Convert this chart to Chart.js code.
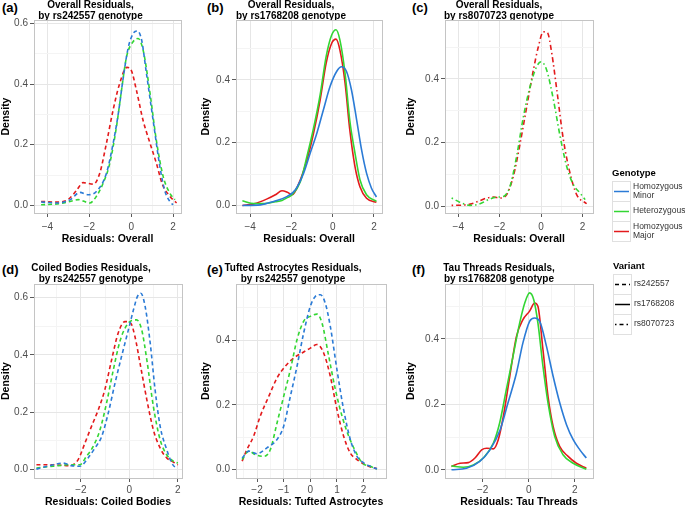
<!DOCTYPE html>
<html>
<head>
<meta charset="utf-8">
<script src="https://cdn.jsdelivr.net/npm/chart.js@4.4.1/dist/chart.umd.min.js"></script>
<style>
	body { margin: 0; background: #fff; font-family: "Liberation Sans", Arial, sans-serif; }
	#wrap { position: relative; width: 685px; height: 507px; overflow: hidden; }
	canvas { position: absolute; }
	.tag { position: absolute; font-weight: bold; font-size: 13px; color: #000; }
	.leg { position: absolute; font-size: 8.5px; color: #333; z-index: 2; }
	.leg b { display: block; font-size: 9.5px; color: #000; margin-bottom: 3px; }
	.row { display: flex; align-items: center; }
	.key { width: 17px; border: 1px solid #e0e0e0; display: flex; align-items: center; justify-content: center; margin-bottom: -1px; flex: none; }
	.row span { margin-left: 2px; line-height: 9.5px; white-space: nowrap; }
</style>
</head>
<body>
<div id="wrap">
	<div class="tag" style="left:2px;top:0px">(a)</div>
	<div class="tag" style="left:207px;top:0px">(b)</div>
	<div class="tag" style="left:412px;top:0px">(c)</div>
	<div class="tag" style="left:2px;top:262px">(d)</div>
	<div class="tag" style="left:207px;top:262px">(e)</div>
	<div class="tag" style="left:412px;top:262px">(f)</div>

	<div class="leg" style="left:612px;top:167px">
		<b>Genotype</b>
		<div class="row"><div class="key" style="height:19px"><svg width="15" height="3"><line x1="0" y1="1.5" x2="15" y2="1.5" stroke="#2b7bd6" stroke-width="1.5"/></svg></div><span>Homozygous<br>Minor</span></div>
		<div class="row"><div class="key" style="height:19px"><svg width="15" height="3"><line x1="0" y1="1.5" x2="15" y2="1.5" stroke="#33d633" stroke-width="1.5"/></svg></div><span>Heterozygous</span></div>
		<div class="row"><div class="key" style="height:19px"><svg width="15" height="3"><line x1="0" y1="1.5" x2="15" y2="1.5" stroke="#e31a1c" stroke-width="1.5"/></svg></div><span>Homozygous<br>Major</span></div>
	</div>

	<div class="leg" style="left:613px;top:260px">
		<b>Variant</b>
		<div class="row"><div class="key" style="height:19px"><svg width="15" height="3"><line x1="0" y1="1.5" x2="15" y2="1.5" stroke="#000" stroke-width="1.5" stroke-dasharray="4 3"/></svg></div><span>rs242557</span></div>
		<div class="row"><div class="key" style="height:19px"><svg width="15" height="3"><line x1="0" y1="1.5" x2="15" y2="1.5" stroke="#000" stroke-width="1.5"/></svg></div><span>rs1768208</span></div>
		<div class="row"><div class="key" style="height:19px"><svg width="15" height="3"><line x1="0" y1="1.5" x2="15" y2="1.5" stroke="#000" stroke-width="1.5" stroke-dasharray="1.5 3 4 3"/></svg></div><span>rs8070723</span></div>
	</div>

	<canvas id="pa" width="215" height="248" style="left:0px;top:0px"></canvas>
	<canvas id="pb" width="218" height="248" style="left:200px;top:0px"></canvas>
	<canvas id="pc" width="228" height="248" style="left:405px;top:0px"></canvas>
	<canvas id="pd" width="216" height="245" style="left:0px;top:263px"></canvas>
	<canvas id="pe" width="222" height="245" style="left:200px;top:263px"></canvas>
	<canvas id="pf" width="228" height="245" style="left:405px;top:263px"></canvas>
</div>

<script>
const BLUE = '#2b7bd6';
const GREEN = '#33d633';
const RED = '#e31a1c';

// (a) Overall residuals, rs242557
const aX = [-4.3, -3.5, -2.9, -2.45, -2.05, -1.66, -1.18, -0.86, -0.62, -0.38, -0.14, 0.1, 0.29, 0.5, 0.73, 1.05, 1.37, 1.6, 1.85, 2.0];
const aMinor = [0.011, 0.008, 0.019, 0.043, 0.035, 0.046, 0.106, 0.205, 0.30, 0.42, 0.52, 0.567, 0.575, 0.545, 0.435, 0.28, 0.128, 0.05, 0.013, 0.002];
const aHetX = [-4.3, -3.4, -2.93, -2.53, -1.98, -1.66, -1.34, -1.02, -0.7, -0.46, -0.22, 0.1, 0.33, 0.57, 0.9, 1.2, 1.53, 1.85, 2.09];
const aHet = [0.002, 0.006, 0.013, 0.019, 0.008, 0.03, 0.073, 0.139, 0.26, 0.38, 0.49, 0.54, 0.55, 0.512, 0.37, 0.216, 0.095, 0.04, 0.019];
const aMajX = [-4.3, -3.57, -3.0, -2.6, -2.3, -1.8, -1.5, -1.18, -0.86, -0.57, -0.2, 0.0, 0.25, 0.57, 0.9, 1.2, 1.5, 1.85, 2.17];
const aMajor = [0.013, 0.011, 0.02, 0.05, 0.075, 0.07, 0.106, 0.205, 0.315, 0.397, 0.455, 0.446, 0.38, 0.28, 0.205, 0.14, 0.068, 0.03, 0.008];

// (b) Overall residuals, rs1768208
const bMinX = [-4.38, -3.5, -2.86, -2.2, -1.81, -1.41, -1.09, -0.77, -0.45, -0.13, 0.19, 0.43, 0.67, 0.91, 1.16, 1.4, 1.64, 1.88, 2.12];
const bMinor = [0.0, 0.002, 0.013, 0.029, 0.05, 0.103, 0.167, 0.23, 0.305, 0.379, 0.427, 0.442, 0.427, 0.368, 0.273, 0.177, 0.103, 0.055, 0.027];
const bX = [-4.38, -3.82, -3.18, -2.78, -2.46, -2.2, -1.97, -1.57, -1.25, -0.93, -0.61, -0.32, -0.05, 0.16, 0.35, 0.6, 0.83, 1.08, 1.32, 1.64, 2.12];
const bHet = [0.015, 0.006, 0.007, 0.012, 0.016, 0.025, 0.034, 0.076, 0.156, 0.246, 0.352, 0.474, 0.543, 0.56, 0.527, 0.42, 0.27, 0.167, 0.082, 0.034, 0.013];
const bMajor = [0.0, 0.005, 0.021, 0.034, 0.047, 0.042, 0.034, 0.082, 0.145, 0.23, 0.336, 0.453, 0.517, 0.53, 0.495, 0.39, 0.24, 0.124, 0.06, 0.023, 0.01];

// (c) Overall residuals, rs8070723 (no homozygous minor)
const cHetX = [-4.32, -3.83, -3.43, -2.95, -2.54, -2.14, -1.82, -1.5, -1.18, -0.85, -0.53, -0.21, 0.0, 0.27, 0.6, 0.92, 1.24, 1.56, 1.88, 2.13];
const cHet = [0.026, 0.01, 0.003, 0.008, 0.021, 0.029, 0.031, 0.063, 0.157, 0.282, 0.376, 0.439, 0.454, 0.428, 0.334, 0.22, 0.125, 0.068, 0.042, 0.021];
const cMajX = [-4.32, -3.75, -3.35, -2.95, -2.62, -2.3, -1.98, -1.66, -1.34, -1.01, -0.69, -0.37, -0.13, 0.11, 0.31, 0.52, 0.76, 1.08, 1.4, 1.72, 2.2];
const cMajor = [0.003, 0.004, 0.008, 0.018, 0.026, 0.029, 0.026, 0.037, 0.094, 0.198, 0.313, 0.428, 0.501, 0.548, 0.545, 0.48, 0.366, 0.209, 0.104, 0.037, 0.008];

// (d) Coiled bodies residuals, rs242557
const dMinX = [-3.83, -3.28, -2.73, -2.39, -2.04, -1.7, -1.42, -1.14, -0.87, -0.59, -0.32, -0.04, 0.17, 0.33, 0.47, 0.65, 0.86, 1.06, 1.27, 1.54, 1.75, 1.96];
const dMinor = [0.002, 0.014, 0.023, 0.014, 0.012, 0.041, 0.075, 0.116, 0.197, 0.302, 0.395, 0.487, 0.557, 0.603, 0.615, 0.569, 0.441, 0.279, 0.151, 0.07, 0.023, 0.002];
const dHetX = [-3.83, -3.14, -2.46, -2.04, -1.77, -1.49, -1.21, -0.94, -0.66, -0.39, -0.14, 0.1, 0.3, 0.51, 0.72, 0.99, 1.27, 1.54, 1.82, 2.0];
const dHet = [0.006, 0.012, 0.017, 0.017, 0.046, 0.081, 0.139, 0.232, 0.348, 0.447, 0.499, 0.52, 0.522, 0.487, 0.383, 0.22, 0.104, 0.052, 0.029, 0.023];
const dMajX = [-3.83, -3.14, -2.46, -2.11, -1.83, -1.56, -1.28, -1.01, -0.73, -0.46, -0.18, 0.06, 0.23, 0.44, 0.72, 0.99, 1.27, 1.54, 1.82, 2.0];
const dMajor = [0.017, 0.017, 0.014, 0.035, 0.093, 0.151, 0.209, 0.279, 0.383, 0.476, 0.516, 0.51, 0.464, 0.371, 0.244, 0.139, 0.075, 0.041, 0.026, 0.017];

// (e) Tufted astrocytes residuals, rs242557
const eMinX = [-2.56, -2.31, -2.0, -1.63, -1.25, -1.0, -0.75, -0.5, -0.25, 0.0, 0.19, 0.38, 0.56, 0.75, 1.0, 1.25, 1.5, 1.75, 2.0, 2.25, 2.5];
const eMinor = [0.036, 0.057, 0.049, 0.067, 0.093, 0.134, 0.226, 0.319, 0.422, 0.504, 0.535, 0.54, 0.514, 0.442, 0.308, 0.185, 0.093, 0.041, 0.021, 0.01, 0.002];
const eHetX = [-2.56, -2.31, -2.06, -1.75, -1.5, -1.25, -1.0, -0.75, -0.5, -0.25, 0.0, 0.25, 0.44, 0.69, 0.94, 1.19, 1.44, 1.69, 1.94, 2.25, 2.5];
const eHet = [0.031, 0.057, 0.046, 0.041, 0.062, 0.144, 0.226, 0.308, 0.401, 0.458, 0.473, 0.48, 0.452, 0.35, 0.247, 0.165, 0.103, 0.057, 0.021, 0.01, 0.002];
const eMajX = [-2.56, -2.38, -2.13, -1.88, -1.56, -1.25, -0.94, -0.63, -0.31, 0.0, 0.25, 0.5, 0.75, 1.0, 1.25, 1.5, 1.75, 2.13, 2.5];
const eMajor = [0.026, 0.062, 0.103, 0.165, 0.226, 0.283, 0.319, 0.344, 0.36, 0.375, 0.386, 0.36, 0.288, 0.185, 0.103, 0.051, 0.031, 0.012, 0.003];

// (f) Tau threads residuals, rs1768208
const fMinX = [-3.35, -2.7, -2.12, -1.68, -1.24, -0.9, -0.53, -0.25, 0.04, 0.26, 0.48, 0.77, 1.06, 1.35, 1.64, 1.93, 2.22, 2.5];
const fMinor = [0.0, 0.005, 0.026, 0.061, 0.122, 0.204, 0.296, 0.388, 0.454, 0.464, 0.454, 0.378, 0.286, 0.204, 0.138, 0.092, 0.061, 0.036];
const fHetX = [-3.35, -2.84, -2.4, -1.97, -1.53, -1.26, -0.97, -0.68, -0.39, -0.17, 0.04, 0.22, 0.4, 0.62, 0.84, 1.13, 1.49, 1.93, 2.5];
const fHet = [0.012, 0.008, 0.015, 0.036, 0.082, 0.143, 0.245, 0.347, 0.449, 0.51, 0.541, 0.52, 0.449, 0.316, 0.204, 0.102, 0.046, 0.02, 0.002];
const fMajX = [-3.35, -2.98, -2.62, -2.33, -2.04, -1.82, -1.53, -1.32, -1.1, -0.82, -0.53, -0.25, 0.04, 0.26, 0.4, 0.62, 0.84, 1.06, 1.35, 1.71, 2.07, 2.5];
const fMajor = [0.01, 0.02, 0.022, 0.036, 0.061, 0.066, 0.064, 0.092, 0.163, 0.286, 0.408, 0.459, 0.485, 0.51, 0.5, 0.367, 0.224, 0.133, 0.071, 0.041, 0.02, 0.005];

// tick labels
const xTicksWide = [-4, -2, 0, 2];
const xMinorWide = [-3, -1, 1];
const xTicksD = [-2, 0, 2];
const xMinorD = [-3, -1, 1];
const xTicksE = [-2, -1, 0, 1, 2];
const xMinorE = [-2.5, -1.5, -0.5, 0.5, 1.5, 2.5];
const xTicksF = [-2, 0, 2];
const xMinorF = [-3, -1, 1];
const yTicks6 = [0, 0.2, 0.4, 0.6];
const yTicks4 = [0, 0.2, 0.4];
const yMinor6 = [0.1, 0.3, 0.5];

const DASH = [4, 3];
const DOTDASH = [1.5, 3, 5, 3];

function pts(xs, ys) {
	return xs.map((x, i) => ({ x: x, y: ys[i] }));
}

function series(xs, ys, color, dash) {
	return {
		data: pts(xs, ys),
		borderColor: color,
		borderWidth: 1.6,
		borderDash: dash,
		pointRadius: 0,
		cubicInterpolationMode: 'monotone',
		fill: false
	};
}

const boxPlugin = {
	id: 'box',
	beforeDatasetsDraw(chart) {
		const a = chart.chartArea;
		const ctx = chart.ctx;
		ctx.save();
		ctx.strokeStyle = '#c4c4c4';
		ctx.lineWidth = 1;
		ctx.strokeRect(Math.round(a.left) + 0.5, Math.round(a.top) + 0.5, Math.round(a.right - a.left), Math.round(a.bottom - a.top));
		ctx.restore();
	}
};

function axis(opts) {
	const majors = opts.majors;
	const all = majors.concat(opts.minors).sort((p, q) => p - q);
	const isMajor = v => majors.some(m => Math.abs(m - v) < 1e-9);
	return {
		type: 'linear',
		min: opts.min,
		max: opts.max,
		afterBuildTicks(scale) {
			scale.ticks = all.map(v => ({ value: v }));
		},
		afterFit(scale) {
			if (opts.width) scale.width = opts.width;
			if (opts.height) scale.height = opts.height;
		},
		border: { display: false },
		grid: {
			color: ctx => isMajor(ctx.tick.value) ? '#e6e6e6' : '#f4f4f4',
			tickColor: ctx => isMajor(ctx.tick.value) ? '#5a5a5a' : 'rgba(0,0,0,0)',
			tickLength: 4,
			lineWidth: 1
		},
		ticks: {
			autoSkip: false,
			maxRotation: 0,
			padding: opts.tickPad || 2,
			color: '#4d4d4d',
			font: { family: 'Liberation Sans', size: 10 },
			callback: (v) => {
				if (!isMajor(v)) return '';
				if (opts.fmt) return v.toFixed(1);
				return v < 0 ? '\u2212' + Math.abs(v) : String(v);
			}
		},
		title: {
			display: true,
			text: opts.title,
			color: '#000',
			font: { family: 'Liberation Sans', size: 10.5, weight: 'bold' },
			padding: opts.titlePad
		}
	};
}

// canvas is widened so that its middle is the middle of the plot area
function panel(id, title, datasets, xo, yo, titleGap) {
	return new Chart(document.getElementById(id), {
		type: 'line',
		data: { datasets: datasets },
		options: {
			responsive: false,
			animation: false,
			layout: { padding: { left: 0, right: yo.width, top: 0, bottom: 0 } },
			plugins: {
				legend: { display: false },
				tooltip: { enabled: false },
				title: {
					display: true,
					text: title,
					color: '#000',
					font: { family: 'Liberation Sans', size: 10, weight: 'bold', lineHeight: 1.1 },
					padding: { top: 0, bottom: titleGap }
				}
			},
			scales: {
				x: Object.assign(axis(xo), { position: 'bottom' }),
				y: Object.assign(axis(yo), { position: 'left' })
			}
		},
		plugins: [boxPlugin]
	});
}

panel('pa', ['Overall Residuals,', 'by rs242557 genotype'], [
	series(aX, aMinor, BLUE, DASH),
	series(aHetX, aHet, GREEN, DASH),
	series(aMajX, aMajor, RED, DASH)
], { min: -4.64, max: 2.38, majors: xTicksWide, minors: xMinorWide, height: 35, tickPad: 4, title: 'Residuals: Overall', titlePad: { top: 0, bottom: 3 } },
   { min: -0.025, max: 0.611, majors: yTicks6, minors: yMinor6, width: 34, fmt: true, title: 'Density', titlePad: { top: 0, bottom: 0 } },
   -2);

panel('pb', ['Overall Residuals,', 'by rs1768208 genotype'], [
	series(bMinX, bMinor, BLUE, []),
	series(bX, bHet, GREEN, []),
	series(bX, bMajor, RED, [])
], { min: -4.69, max: 2.39, majors: xTicksWide, minors: xMinorWide, height: 35, tickPad: 4, title: 'Residuals: Overall', titlePad: { top: 0, bottom: 3 } },
   { min: -0.024, max: 0.591, majors: yTicks4, minors: yMinor6, width: 36, fmt: true, title: 'Density', titlePad: { top: 0, bottom: 0 } },
   -2);

panel('pc', ['Overall Residuals,', 'by rs8070723 genotype'], [
	series(cHetX, cHet, GREEN, DOTDASH),
	series(cMajX, cMajor, RED, DOTDASH)
], { min: -4.64, max: 2.51, majors: xTicksWide, minors: xMinorWide, height: 35, tickPad: 4, title: 'Residuals: Overall', titlePad: { top: 0, bottom: 3 } },
   { min: -0.021, max: 0.585, majors: yTicks4, minors: yMinor6, width: 40, fmt: true, title: 'Density', titlePad: { top: 0, bottom: 0 } },
   -2);

panel('pd', ['Coiled Bodies Residuals,', 'by rs242557 genotype'], [
	series(dMinX, dMinor, BLUE, DASH),
	series(dHetX, dHet, GREEN, DASH),
	series(dMajX, dMajor, RED, DASH)
], { min: -3.93, max: 2.17, majors: xTicksD, minors: xMinorD, height: 30, title: 'Residuals: Coiled Bodies', titlePad: { top: 0, bottom: 0 } },
   { min: -0.029, max: 0.647, majors: yTicks6, minors: yMinor6, width: 34, fmt: true, title: 'Density', titlePad: { top: 0, bottom: 0 } },
   -1);

panel('pe', ['Tufted Astrocytes Residuals,', 'by rs242557 genotype'], [
	series(eMinX, eMinor, BLUE, DASH),
	series(eHetX, eHet, GREEN, DASH),
	series(eMajX, eMajor, RED, DASH)
], { min: -2.79, max: 2.84, majors: xTicksE, minors: xMinorE, height: 30, title: 'Residuals: Tufted Astrocytes', titlePad: { top: 0, bottom: 0 } },
   { min: -0.026, max: 0.573, majors: yTicks4, minors: yMinor6, width: 36, fmt: true, title: 'Density', titlePad: { top: 0, bottom: 0 } },
   -1);

panel('pf', ['Tau Threads Residuals,', 'by rs1768208 genotype'], [
	series(fMinX, fMinor, BLUE, []),
	series(fHetX, fHet, GREEN, []),
	series(fMajX, fMajor, RED, [])
], { min: -3.63, max: 2.79, majors: xTicksF, minors: xMinorF, height: 30, title: 'Residuals: Tau Threads', titlePad: { top: 0, bottom: 0 } },
   { min: -0.025, max: 0.568, majors: yTicks4, minors: yMinor6, width: 40, fmt: true, title: 'Density', titlePad: { top: 0, bottom: 0 } },
   -1);
</script>
</body>
</html>
